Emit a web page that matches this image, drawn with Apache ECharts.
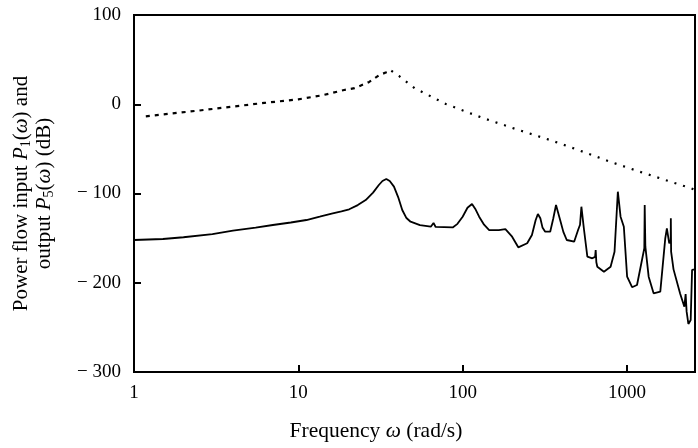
<!DOCTYPE html>
<html>
<head>
<meta charset="utf-8">
<script src="https://cdn.jsdelivr.net/npm/echarts@6/dist/echarts.min.js"></script>
<style>
  html, body { margin: 0; padding: 0; background: #fff; }
  #chart { width: 698px; height: 448px; }
</style>
</head>
<body>
<div id="chart"></div>
<script>
// input power P1 (dotted) - frequency in rad/s, level in dB
const inputFreq = [1.18, 2.5, 6.2, 10, 14, 19, 22, 27, 31, 34, 36.8, 41, 51, 79, 129, 210, 350, 506, 806, 1280, 2460, 2594]
const inputDb = [-13.5, -7, 1.5, 5.5, 10, 16, 18, 25, 32.5, 35.5, 37.5, 31.7, 18, 0.3, -14.6, -27.7, -40.8, -51.3, -65, -77.4, -94.2, -96]
const inputPeakIdx = 10

// output power P5 (solid)
const outputFreq = [1, 1.5, 2, 3, 4, 5.5, 7, 9, 11.2, 13.5, 16.2, 18.3, 20.4, 23, 25.7, 28.5, 30.9, 32.5, 34.3, 36, 38.2, 40.5, 42.9, 45.5, 48.2, 55, 64, 66.5, 68.5, 87, 93, 100, 107, 114, 120, 126, 135, 145, 166, 182, 200, 218, 247, 264, 278, 287, 297, 306, 318, 341, 356, 370, 392, 410, 430, 477, 504, 518, 528, 548, 574, 615, 640, 645, 651, 660, 724, 795, 840, 880, 914, 957, 1002, 1074, 1151, 1234, 1275, 1282, 1294, 1355, 1452, 1595, 1710, 1749, 1808, 1845, 1849, 1856, 1920, 2105, 2235, 2275, 2307, 2364, 2442, 2490, 2535, 2594]
const outputDb = [-152.1, -151, -149, -145.5, -141.6, -138.2, -135.3, -132.5, -129.7, -126, -122.2, -120, -117.7, -113, -107.3, -99, -90.5, -86, -83.7, -86, -92.3, -104, -118.5, -127.5, -131.6, -135.5, -137.2, -133, -137.5, -138, -134, -126, -116, -111.8, -118, -126, -135, -140.9, -141, -140, -148.4, -160.3, -155.8, -146.5, -130, -122.9, -127.8, -138, -142.8, -142.8, -128, -112.9, -129.7, -143, -152.1, -154, -140.9, -135, -114.8, -140.9, -170.8, -172.6, -171, -163.3, -177, -182, -187.6, -182, -165.2, -98, -126, -137.2, -193.2, -205, -202.5, -174.5, -161.4, -112.9, -159.6, -193.2, -211.8, -210, -150.2, -139, -155.8, -152, -127.8, -165, -185, -212, -226.8, -212.6, -232.4, -246.2, -241.7, -185.7, -185, -185]

const xLabels = ['1', '10', '100', '1000']

const pair = (fs, vs) => fs.map((f, i) => [f, vs[i]])
const inputData = pair(inputFreq, inputDb)
const outputData = pair(outputFreq, outputDb)

const font = 'Liberation Serif'
const chart = echarts.init(document.getElementById('chart'))

chart.setOption({
  animation: false,
  grid: { left: 134, right: -2, top: 15, bottom: 76, show: true, borderColor: '#000', borderWidth: 2 },
  xAxis: {
    type: 'log', logBase: 10, min: 1, max: 2594,
    name: '{a|Frequency }{i|ω}{a| (rad/s)}',
    nameLocation: 'middle', nameGap: 48,
    nameTextStyle: {
      padding: [0, 77, 0, 0],
      rich: {
        a: { fontFamily: font, fontSize: 21.5, color: '#000' },
        i: { fontFamily: font, fontSize: 21.5, fontStyle: 'italic', color: '#000' }
      }
    },
    axisLine: { onZero: false, lineStyle: { color: '#000', width: 2 } },
    axisTick: { inside: true, length: 7, lineStyle: { color: '#000', width: 2 } },
    minorTick: { show: false },
    splitLine: { show: false },
    axisLabel: {
      margin: 12, fontFamily: font, fontSize: 19, color: '#000',
      formatter: v => {
        const l = Math.log10(v)
        const k = Math.round(l)
        return Math.abs(l - k) < 1e-6 && xLabels[k] ? xLabels[k] : ''
      }
    }
  },
  yAxis: {
    type: 'value', min: -300, max: 100, interval: 100,
    name: '{a|Power flow input }{i|P}{s|1}{a|(}{i|ω}{a|) and}\n{a|output }{i|P}{s|5}{a|(}{i|ω}{a|) (dB)}',
    nameLocation: 'middle', nameGap: 78,
    nameTextStyle: {
      rich: {
        a: { fontFamily: font, fontSize: 21, lineHeight: 23, color: '#000' },
        i: { fontFamily: font, fontSize: 21, lineHeight: 23, fontStyle: 'italic', color: '#000' },
        s: { fontFamily: font, fontSize: 14, lineHeight: 13, verticalAlign: 'bottom', color: '#000' }
      }
    },
    axisLine: { show: true, onZero: false, lineStyle: { color: '#000', width: 2 } },
    axisTick: { show: true, inside: true, length: 7, lineStyle: { color: '#000', width: 2 } },
    splitLine: { show: false },
    axisLabel: {
      margin: 13, fontFamily: font, fontSize: 19, color: '#000',
      formatter: v => v < 0 ? '− ' + Math.abs(v) : String(v)
    }
  },
  series: [
    {
      name: 'P1 rising', type: 'line', showSymbol: false,
      data: inputData.slice(0, inputPeakIdx + 1),
      lineStyle: { color: '#000', width: 2.2, type: [4, 5] }
    },
    {
      name: 'P1 falling', type: 'line', showSymbol: false,
      data: inputData.slice(inputPeakIdx),
      lineStyle: { color: '#000', width: 2.2, type: [2, 7] }
    },
    {
      name: 'P5', type: 'line', showSymbol: false,
      data: outputData,
      lineStyle: { color: '#000', width: 1.8 }
    }
  ]
})
</script>
</body>
</html>
